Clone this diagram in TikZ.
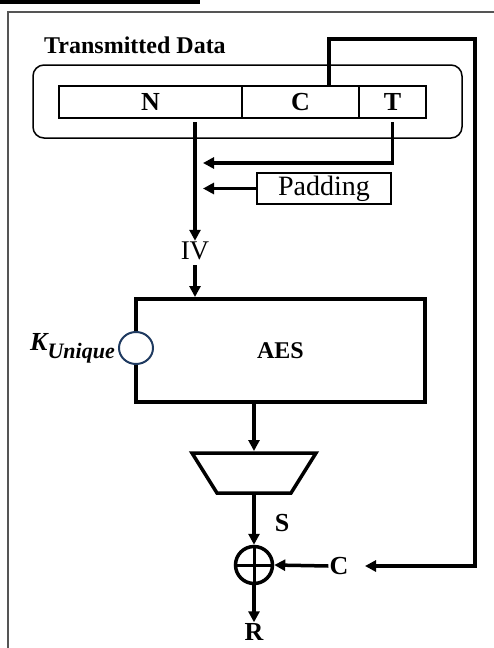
\documentclass[tikz,border=0pt]{standalone}
\usepackage{fontspec}
\setmainfont{Liberation Serif}
\usetikzlibrary{arrows.meta,positioning,shapes.geometric}
\definecolor{navyk}{HTML}{1F3A60}
\definecolor{framegray}{HTML}{555555}
\tikzset{
  ar/.style={-{Triangle[length=11pt,width=11pt]},line width=3.5pt},
  cell/.style={draw,line width=1.2pt,minimum height=32pt,inner sep=0pt,outer sep=0pt,font=\bfseries\fontsize{26}{28}\selectfont},
  lbl/.style={font=\bfseries\fontsize{26}{28}\selectfont,inner sep=1pt}
}

\begin{document}
\begin{tikzpicture}[x=1pt,y=-1pt]
\useasboundingbox (0,0) rectangle (494,648);
\fill (0,0) rectangle (200,4);
\draw[framegray,line width=1.3pt] (494,12) -- (8,12) -- (8,650);
% transmitted packet
\node[lbl,font=\bfseries\fontsize{24}{26}\selectfont] (title) at (135,45) {Transmitted Data};
\node[draw,line width=1.5pt,rounded corners=11pt,minimum width=429pt,minimum height=73pt] (pkt) at (247.5,101.5) {};
\node[cell,minimum width=183pt] (ncell) at (150.5,102) {N};
\node[cell,minimum width=117pt,right=0pt of ncell] (ccell) {C};
\node[cell,minimum width=67pt,right=0pt of ccell] (tcell) {T};
\node[draw,line width=1.5pt,minimum width=134pt,minimum height=31pt,inner sep=0pt,font=\fontsize{28}{30}\selectfont] (pad) at (324,188.5) {Padding};
\node[lbl,font=\fontsize{27}{29}\selectfont] (iv) at (195,251) {IV};
% cipher
\node[draw,line width=4pt,minimum width=289pt,minimum height=103pt,font=\bfseries\fontsize{24}{26}\selectfont] (aes) at (280.5,350.5) {AES};
\node[ellipse,draw=navyk,fill=white,line width=2pt,minimum width=34pt,minimum height=32pt,inner sep=0pt] (key) at (136,348) {};
\node[left=2pt of key,font=\bfseries\itshape\fontsize{26}{28}\selectfont,inner sep=1pt] (klbl) {K\raisebox{-8pt}{\fontsize{22}{24}\selectfont Unique}};
\node[minimum width=124pt,minimum height=40pt,inner sep=0pt,outer sep=0pt] (mux) at (254,473) {};
\draw[line width=3.5pt] (mux.north west) -- (mux.north east) -- ([xshift=-25pt]mux.south east) -- ([xshift=25pt]mux.south west) -- cycle;
\node[circle,draw,line width=3.5pt,minimum size=37pt,inner sep=0pt] (xor) at (254,565) {};
\draw[line width=3pt] (xor.center) +(0,-18.5) -- +(0,18.5) +(-18.5,0) -- +(18.5,0);
\node[lbl] (slbl) at (282,523) {S};
\node[lbl] (rout) at (254,632) {R};
\node[lbl] (cin) at (339,566) {C};
\coordinate (j1) at (203,163);
\coordinate (cup) at (475,39);
\coordinate (cend) at (365,566);
% connectors
\draw[ar] (iv.north |- ncell.south) ++(0,4) -- (iv.north);
\draw[ar] (tcell.south) ++(0,4) |- (j1);
\draw[ar] (pad.west) -- (pad.west -| j1);
\draw[ar] (iv.south) ++(0,4) -- (iv.south |- aes.north);
\draw[ar] ([xshift=28.5pt]ccell.north) |- (cup) |- (cend);
\draw[ar] (mux.north |- aes.south) -- ([yshift=2pt]mux.north);
\draw[ar] ([yshift=-2pt]mux.south) -- (xor.north);
\draw[ar] (xor.south) -- (rout.north);
\draw[ar] (cin.west) -- (xor.east);
\end{tikzpicture}
\end{document}
